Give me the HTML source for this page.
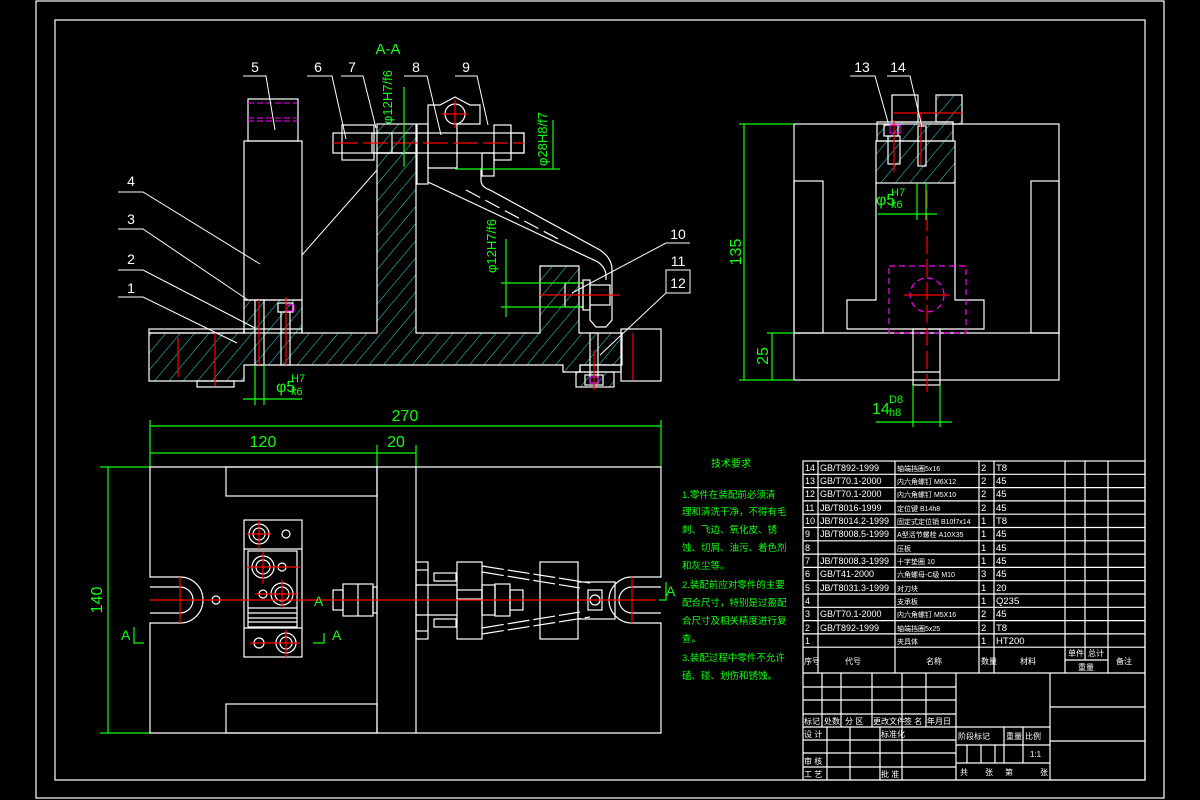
<!DOCTYPE html>
<html><head><meta charset="utf-8"><style>
html,body{margin:0;padding:0;background:#000;}
svg{display:block;}
text{font-family:"Liberation Sans","Noto Sans CJK SC",sans-serif;}
</style></head><body>
<svg width="1200" height="800" viewBox="0 0 1200 800" xmlns="http://www.w3.org/2000/svg">
<defs>
<pattern id="h" width="11" height="11" patternUnits="userSpaceOnUse" patternTransform="rotate(40)">
<line x1="0" y1="0" x2="0" y2="11" stroke="#2fe0e8" stroke-width="1"/>
</pattern>
</defs>
<rect width="1200" height="800" fill="#000"/>
<g fill="none" stroke="#fff" stroke-width="1.2">
<rect x="36" y="1" width="1128" height="797"/>
<rect x="55" y="20" width="1090" height="760"/>
</g>

<!-- ===== SECTION A-A ===== -->
<text x="388" y="54" fill="#1f1" font-size="15" text-anchor="middle">A-A</text>
<g fill="url(#h)" stroke="#fff" stroke-width="1.2">
<path d="M149 333 H244 V329 H302 V333 H377 V153 H416 V333 H540 V266 H579 V333 H622 V365 H580 V372 H563 V365 H244 V381 H149 Z"/>
<rect x="576" y="372" width="38" height="15"/>
<rect x="244" y="300" width="58" height="33"/>
<rect x="377" y="124" width="39" height="29"/>
</g>
<g fill="none" stroke="#fff" stroke-width="1.2">
<rect x="248" y="99" width="50" height="42"/>
<rect x="244" y="141" width="58" height="159"/>
<rect x="149" y="329" width="95" height="4"/>
<rect x="197" y="381" width="37" height="6"/>
<rect x="621" y="329" width="40" height="52"/>
<rect x="580" y="365" width="41" height="7"/>
<rect x="255" y="300" width="9" height="65"/>
<rect x="281" y="312" width="9" height="53"/>
<rect x="278" y="303" width="15" height="9"/>
<rect x="590" y="333" width="8" height="50"/>
<rect x="585" y="375" width="18" height="10"/>
<rect x="333" y="133" width="191" height="20"/>
<rect x="342" y="125" width="32" height="35"/>
<rect x="494" y="125" width="17" height="35"/>
<rect x="511" y="133" width="13" height="20"/>
<rect x="372" y="133" width="20" height="20"/>
<rect x="417" y="124" width="11" height="60"/>
<path d="M428 105 H440 L455 97 L470 105 H480 V124 H457 V168 H428 Z"/>
<circle cx="455" cy="114" r="10"/>
<rect x="482" y="153" width="12" height="23"/>
<path d="M428 182 L598 262 Q606 268 606 276 V280"/>
<path d="M481 168 V180 Q481 187 490 190 L600 250 Q612 258 612 270 V320 L606 327 H596 L590 320 V306"/>
<rect x="565" y="283" width="18" height="24"/>
<rect x="583" y="280" width="7" height="30"/>
<rect x="590" y="285" width="20" height="20"/>
</g>
<path d="M466 190 L560 240" stroke="#fff" stroke-width="1.2" stroke-dasharray="16,6" fill="none"/>
<g stroke="#f0f" stroke-width="1" stroke-dasharray="6,3">
<line x1="248" y1="103" x2="298" y2="103"/>
<line x1="248" y1="118" x2="298" y2="118"/>
<line x1="248" y1="121" x2="298" y2="121"/>
</g>
<rect x="286" y="305" width="8" height="6" fill="none" stroke="#f0f"/>
<rect x="590" y="377" width="8" height="6" fill="none" stroke="#f0f"/>
<g stroke="#f00" stroke-width="1.2">
<line x1="333" y1="143" x2="524" y2="143" stroke-dasharray="25,5"/>
<line x1="455" y1="100" x2="455" y2="128"/><line x1="442" y1="114" x2="468" y2="114"/>
<line x1="178" y1="338" x2="178" y2="377"/>
<line x1="215" y1="333" x2="215" y2="386"/>
<line x1="259" y1="300" x2="259" y2="365"/>
<line x1="286" y1="297" x2="286" y2="365"/>
<line x1="594" y1="350" x2="594" y2="390"/>
<line x1="633" y1="333" x2="633" y2="380"/>
<line x1="540" y1="295" x2="620" y2="295"/>
</g>
<g stroke="#fff" stroke-width="1" fill="none">
<path d="M243 76 H266 L275 130"/><path d="M307 76 H332 L346 139"/>
<path d="M341 76 H363 L376 128"/><path d="M404 76 H427 L441 135"/>
<path d="M455 76 H477 L488 125"/>
<path d="M118 192 H143 L260 264"/><path d="M118 229 H143 L248 300"/>
<path d="M118 270 H143 L255 328"/><path d="M118 297 H143 L237 343"/>
<path d="M302 255 L377 170"/>
<path d="M690 243 H666 L572 293"/>
<rect x="666" y="270" width="24" height="23"/><path d="M666 293 L600 355"/>
</g>
<g fill="#fff" font-size="14" text-anchor="middle">
<text x="255" y="72">5</text><text x="318" y="72">6</text><text x="352" y="72">7</text>
<text x="416" y="72">8</text><text x="466" y="72">9</text>
<text x="131" y="186">4</text><text x="131" y="224">3</text><text x="131" y="264">2</text><text x="131" y="293">1</text>
<text x="678" y="239">10</text><text x="678" y="266">11</text><text x="678" y="288">12</text>
<text x="862" y="72">13</text><text x="898" y="72">14</text>
</g>
<g stroke="#1f1" stroke-width="1.2" fill="none">
<line x1="404" y1="87" x2="404" y2="167"/>
<line x1="553" y1="120" x2="553" y2="169"/><line x1="455" y1="169" x2="560" y2="169"/>
<line x1="506" y1="239" x2="506" y2="317"/>
<line x1="501" y1="283" x2="581" y2="283"/><line x1="501" y1="307" x2="581" y2="307"/>
<line x1="255" y1="365" x2="255" y2="405"/><line x1="264" y1="365" x2="264" y2="405"/>
<line x1="243" y1="399" x2="302" y2="399"/>
<line x1="150" y1="420" x2="150" y2="467"/><line x1="661" y1="420" x2="661" y2="467"/>
<line x1="150" y1="426" x2="661" y2="426"/>
<line x1="150" y1="453" x2="416" y2="453"/><line x1="377" y1="445" x2="377" y2="467"/><line x1="416" y1="445" x2="416" y2="467"/>
<line x1="108" y1="467" x2="108" y2="733"/><line x1="100" y1="467" x2="150" y2="467"/><line x1="100" y1="733" x2="150" y2="733"/>
</g>
<g fill="#1f1" font-size="13">
<text transform="translate(392,124) rotate(-90)">φ12H7/f6</text>
<text transform="translate(547,166) rotate(-90)">φ28H8/f7</text>
<text transform="translate(496,273) rotate(-90)">φ12H7/f6</text>
<text x="276" y="392" font-size="16">φ5</text><text x="291" y="382" font-size="11">H7</text><text x="291" y="395" font-size="11">k6</text>
<text x="405" y="421" text-anchor="middle" font-size="16">270</text>
<text x="263" y="447" text-anchor="middle" font-size="16">120</text>
<text x="396" y="447" text-anchor="middle" font-size="16">20</text>
<text transform="translate(102,600) rotate(-90)" text-anchor="middle" font-size="16">140</text>
</g>

<!-- ===== PLAN VIEW ===== -->
<g fill="none" stroke="#fff" stroke-width="1.2">
<path d="M150 467 H661 V577 H632 A23 23 0 0 0 632 623 H661 V733 H150 V623 H180 A23 23 0 0 0 180 577 H150 Z"/>
<path d="M150 587 H180 A13 13 0 0 1 180 613 H150"/>
<path d="M661 587 H632 A13 13 0 0 0 632 613 H661"/>
<line x1="377" y1="467" x2="377" y2="733"/><line x1="416" y1="467" x2="416" y2="733"/>
<rect x="226" y="467" width="151" height="29"/><rect x="226" y="704" width="151" height="29"/>
<circle cx="216" cy="600" r="4"/>
<rect x="244" y="520" width="58" height="137"/>
<line x1="244" y1="549" x2="302" y2="549"/><line x1="244" y1="628" x2="302" y2="628"/>
<rect x="248" y="551" width="49" height="76"/>
<line x1="248" y1="608" x2="297" y2="608"/><line x1="248" y1="613" x2="297" y2="613"/>
<line x1="248" y1="618" x2="297" y2="618"/><line x1="248" y1="622" x2="297" y2="622"/>
<circle cx="259" cy="534" r="10"/><circle cx="259" cy="534" r="6"/><circle cx="286" cy="534" r="4"/>
<circle cx="263" cy="567" r="11"/><circle cx="263" cy="567" r="7"/><circle cx="282" cy="567" r="4"/>
<circle cx="263" cy="594" r="4"/><circle cx="282" cy="594" r="11"/><circle cx="282" cy="594" r="7"/>
<circle cx="259" cy="643" r="5"/><circle cx="286" cy="643" r="10"/><circle cx="286" cy="643" r="6"/>
<rect x="333" y="590" width="10" height="20"/>
<rect x="343" y="584" width="30" height="32"/><line x1="358" y1="584" x2="358" y2="616"/>
<rect x="373" y="587" width="4" height="26"/>
<rect x="416" y="562" width="12" height="77"/>
<line x1="416" y1="570" x2="428" y2="570"/><line x1="416" y1="631" x2="428" y2="631"/>
<rect x="434" y="573" width="22" height="8"/><rect x="434" y="619" width="22" height="8"/>
<line x1="416" y1="585" x2="457" y2="585"/><line x1="416" y1="615" x2="457" y2="615"/>
<rect x="457" y="562" width="25" height="77"/>
<rect x="457" y="590" width="25" height="9"/>
<rect x="482" y="585" width="13" height="30"/>
<rect x="495" y="584" width="15" height="32"/><rect x="510" y="590" width="13" height="20"/>
<rect x="540" y="562" width="38" height="77"/>
<path d="M482 566 L590 583 M482 572 L580 588 M482 634 L590 617 M482 628 L580 612" stroke-dasharray="22,4"/>
<rect x="578" y="582" width="37" height="37"/><rect x="588" y="590" width="14" height="20"/>
<circle cx="595" cy="600" r="5"/>
</g>
<g stroke="#f00" stroke-width="1.2">
<line x1="149" y1="600" x2="655" y2="600"/>
<line x1="180" y1="577" x2="180" y2="623"/><line x1="632" y1="577" x2="632" y2="623"/>
<line x1="259" y1="520" x2="259" y2="549"/><line x1="247" y1="534" x2="271" y2="534"/>
<line x1="263" y1="552" x2="263" y2="584"/><line x1="247" y1="567" x2="300" y2="567"/>
<line x1="282" y1="580" x2="282" y2="608"/><line x1="255" y1="594" x2="297" y2="594"/>
<line x1="286" y1="630" x2="286" y2="657"/><line x1="250" y1="643" x2="300" y2="643"/>
</g>
<g stroke="#1f1" stroke-width="1.2" fill="none">
<path d="M134 627 V643 H144"/><path d="M313 643 H324 V633"/><path d="M659 600 H666 V582"/>
</g>
<g fill="#1f1" font-size="14">
<text x="121" y="640">A</text><text x="314" y="606">A</text><text x="332" y="640">A</text><text x="666" y="596">A</text>
</g>

<g fill="#1f1" font-size="9.5">
<text x="711" y="467" font-size="10">技术要求</text>
<text x="682" y="498">1.零件在装配前必须清</text>
<text x="682" y="515">理和清洗干净，不得有毛</text>
<text x="682" y="533">刺、飞边、氧化皮、锈</text>
<text x="682" y="551">蚀、切屑、油污、着色剂</text>
<text x="682" y="569">和灰尘等。</text>
<text x="682" y="588">2.装配前应对零件的主要</text>
<text x="682" y="606">配合尺寸，特别是过盈配</text>
<text x="682" y="624">合尺寸及相关精度进行复</text>
<text x="682" y="642">查。</text>
<text x="682" y="661">3.装配过程中零件不允许</text>
<text x="682" y="679">磕、碰、划伤和锈蚀。</text>
</g>

<!-- ===== SIDE VIEW ===== -->
<g fill="url(#h)" stroke="#fff" stroke-width="1.2">
<rect x="876" y="141" width="79" height="42"/>
<rect x="877" y="122" width="76" height="19"/>
<path d="M936 95 H962 V124 H953 V122 L936 122 Z"/>
</g>
<g fill="none" stroke="#fff" stroke-width="1.2">
<rect x="794" y="124" width="265" height="256"/>
<rect x="794" y="181" width="29" height="152"/><rect x="1031" y="181" width="28" height="152"/>
<line x1="794" y1="333" x2="1059" y2="333"/>
<path d="M876 183 V300 H847 V329 H984 V300 H955 V183"/>
<rect x="913" y="329" width="27" height="56"/><line x1="913" y1="372" x2="940" y2="372"/>
<rect x="892" y="95" width="26" height="27"/>
<rect x="884" y="125" width="14" height="11"/>
<rect x="888" y="136" width="12" height="28"/>
<rect x="918" y="126" width="8" height="40"/>
</g>
<g stroke="#f0f" stroke-width="1.2" fill="none" stroke-dasharray="6,4">
<rect x="889" y="266" width="77" height="67"/>
<circle cx="927" cy="295" r="17"/>
</g>
<rect x="890" y="125" width="10" height="8" fill="none" stroke="#f0f"/>
<g stroke="#f00" stroke-width="1.2">
<line x1="927" y1="190" x2="927" y2="392" stroke-dasharray="18,5"/>
<line x1="904" y1="295" x2="950" y2="295"/>
<line x1="894" y1="113" x2="962" y2="113"/>
<line x1="894" y1="120" x2="894" y2="172"/><line x1="921" y1="112" x2="921" y2="165"/>
</g>
<g stroke="#fff" stroke-width="1" fill="none">
<path d="M850 76 H875 L888 122"/><path d="M887 76 H910 L922 127"/>
</g>
<g stroke="#1f1" stroke-width="1.2" fill="none">
<line x1="744" y1="124" x2="744" y2="380"/><line x1="739" y1="124" x2="794" y2="124"/><line x1="739" y1="380" x2="794" y2="380"/>
<line x1="772" y1="333" x2="772" y2="380"/><line x1="767" y1="333" x2="794" y2="333"/>
<line x1="876" y1="422" x2="952" y2="422"/><line x1="913" y1="385" x2="913" y2="427"/><line x1="940" y1="385" x2="940" y2="427"/>
<line x1="878" y1="214" x2="937" y2="214"/><line x1="917" y1="183" x2="917" y2="220"/><line x1="926" y1="183" x2="926" y2="220"/>
</g>
<g fill="#1f1" font-size="16">
<text transform="translate(741,252) rotate(-90)" text-anchor="middle">135</text>
<text transform="translate(768,356) rotate(-90)" text-anchor="middle">25</text>
<text x="872" y="414">14</text><text x="889" y="403" font-size="11">D8</text><text x="889" y="416" font-size="11">h8</text>
<text x="876" y="205">φ5</text><text x="891" y="196" font-size="11">H7</text><text x="891" y="208" font-size="11">k6</text>
</g>

<!-- ===== PARTS LIST ===== -->
<g stroke="#fff" stroke-width="1.2" fill="none">
<rect x="803" y="461" width="342" height="319"/>
<line x1="803" y1="474.3" x2="1145" y2="474.3"/><line x1="803" y1="487.6" x2="1145" y2="487.6"/>
<line x1="803" y1="500.9" x2="1145" y2="500.9"/><line x1="803" y1="514.2" x2="1145" y2="514.2"/>
<line x1="803" y1="527.5" x2="1145" y2="527.5"/><line x1="803" y1="540.8" x2="1145" y2="540.8"/>
<line x1="803" y1="554.1" x2="1145" y2="554.1"/><line x1="803" y1="567.4" x2="1145" y2="567.4"/>
<line x1="803" y1="580.7" x2="1145" y2="580.7"/><line x1="803" y1="594" x2="1145" y2="594"/>
<line x1="803" y1="607.3" x2="1145" y2="607.3"/><line x1="803" y1="620.6" x2="1145" y2="620.6"/>
<line x1="803" y1="633.9" x2="1145" y2="633.9"/><line x1="803" y1="647.2" x2="1145" y2="647.2"/>
<line x1="803" y1="673" x2="1145" y2="673"/>
<line x1="1065" y1="660" x2="1108" y2="660"/>
<line x1="818" y1="461" x2="818" y2="673"/><line x1="895" y1="461" x2="895" y2="673"/>
<line x1="979" y1="461" x2="979" y2="673"/><line x1="994" y1="461" x2="994" y2="673"/>
<line x1="1065" y1="461" x2="1065" y2="673"/><line x1="1085" y1="461" x2="1085" y2="660"/>
<line x1="1108" y1="461" x2="1108" y2="673"/>
<line x1="803" y1="687" x2="956" y2="687"/><line x1="803" y1="700" x2="956" y2="700"/>
<line x1="803" y1="714" x2="956" y2="714"/><line x1="803" y1="727" x2="956" y2="727"/>
<line x1="803" y1="740" x2="956" y2="740"/><line x1="803" y1="753" x2="956" y2="753"/><line x1="803" y1="767" x2="956" y2="767"/>
<line x1="822" y1="673" x2="822" y2="727"/><line x1="841" y1="673" x2="841" y2="727"/>
<line x1="872" y1="673" x2="872" y2="727"/><line x1="902" y1="673" x2="902" y2="780"/>
<line x1="926" y1="673" x2="926" y2="727"/>
<line x1="827" y1="727" x2="827" y2="780"/><line x1="850" y1="727" x2="850" y2="780"/><line x1="880" y1="727" x2="880" y2="780"/>
<line x1="956" y1="673" x2="956" y2="780"/><line x1="1050" y1="673" x2="1050" y2="780"/>
<line x1="956" y1="727" x2="1050" y2="727"/><line x1="956" y1="745" x2="1050" y2="745"/><line x1="956" y1="763" x2="1050" y2="763"/>
<line x1="1004" y1="727" x2="1004" y2="763"/><line x1="1023" y1="727" x2="1023" y2="763"/>
<line x1="967" y1="745" x2="967" y2="763"/><line x1="981" y1="745" x2="981" y2="763"/><line x1="995" y1="745" x2="995" y2="763"/>
<line x1="1050" y1="707" x2="1145" y2="707"/><line x1="1050" y1="741" x2="1145" y2="741"/>
</g>
<g fill="#fff" font-size="9.5">
<g font-size="9">
<text x="805" y="471">14</text><text x="820" y="471">GB/T892-1999</text>
<text x="805" y="484">13</text><text x="820" y="484">GB/T70.1-2000</text>
<text x="805" y="497">12</text><text x="820" y="497">GB/T70.1-2000</text>
<text x="805" y="511">11</text><text x="820" y="511">JB/T8016-1999</text>
<text x="805" y="524">10</text><text x="820" y="524">JB/T8014.2-1999</text>
<text x="805" y="537">9</text><text x="820" y="537">JB/T8008.5-1999</text>
<text x="805" y="551">8</text>
<text x="805" y="564">7</text><text x="820" y="564">JB/T8008.3-1999</text>
<text x="805" y="577">6</text><text x="820" y="577">GB/T41-2000</text>
<text x="805" y="591">5</text><text x="820" y="591">JB/T8031.3-1999</text>
<text x="805" y="604">4</text>
<text x="805" y="617">3</text><text x="820" y="617">GB/T70.1-2000</text>
<text x="805" y="631">2</text><text x="820" y="631">GB/T892-1999</text>
<text x="805" y="644">1</text>
</g>
<g font-size="7">
<text x="897" y="471">轴端挡圈5x16</text>
<text x="897" y="484">内六角螺钉 M6X12</text>
<text x="897" y="497">内六角螺钉 M5X10</text>
<text x="897" y="511">定位键 B14h8</text>
<text x="897" y="524">固定式定位销 B10f7x14</text>
<text x="897" y="537">A型活节螺栓 A10X35</text>
<text x="897" y="551">压板</text>
<text x="897" y="564">十字垫圈 10</text>
<text x="897" y="577">六角螺母-C级 M10</text>
<text x="897" y="591">对刀块</text>
<text x="897" y="604">支承板</text>
<text x="897" y="617">内六角螺钉 M5X16</text>
<text x="897" y="631">轴端挡圈5x25</text>
<text x="897" y="644">夹具体</text>
</g>
<text x="981" y="471">2</text><text x="996" y="471">T8</text>
<text x="981" y="484">2</text><text x="996" y="484">45</text>
<text x="981" y="497">2</text><text x="996" y="497">45</text>
<text x="981" y="511">2</text><text x="996" y="511">45</text>
<text x="981" y="524">1</text><text x="996" y="524">T8</text>
<text x="981" y="537">1</text><text x="996" y="537">45</text>
<text x="981" y="551">1</text><text x="996" y="551">45</text>
<text x="981" y="564">1</text><text x="996" y="564">45</text>
<text x="981" y="577">3</text><text x="996" y="577">45</text>
<text x="981" y="591">1</text><text x="996" y="591">20</text>
<text x="981" y="604">1</text><text x="996" y="604">Q235</text>
<text x="981" y="617">2</text><text x="996" y="617">45</text>
<text x="981" y="631">2</text><text x="996" y="631">T8</text>
<text x="981" y="644">1</text><text x="996" y="644">HT200</text>
<g font-size="8">
<text x="804" y="664">序号</text><text x="845" y="664">代号</text><text x="926" y="664">名称</text><text x="981" y="664">数量</text><text x="1020" y="664">材料</text>
<text x="1068" y="656">单件</text><text x="1088" y="656">总计</text><text x="1078" y="670">重量</text><text x="1116" y="664">备注</text>
<text x="804" y="724">标记</text><text x="824" y="724">处数</text><text x="845" y="724">分 区</text><text x="873" y="724">更改文件</text><text x="904" y="724">签 名</text><text x="927" y="724">年月日</text>
<text x="804" y="737">设 计</text><text x="881" y="737">标准化</text><text x="804" y="764">审 核</text><text x="804" y="777">工 艺</text><text x="881" y="777">批 准</text>
<text x="958" y="739">阶段标记</text><text x="1006" y="739">重量</text><text x="1025" y="739">比例</text>
<text x="1030" y="757">1:1</text><text x="960" y="775">共</text><text x="985" y="775">张</text><text x="1005" y="775">第</text><text x="1040" y="775">张</text>
</g>
</g>
</svg>
</body></html>
